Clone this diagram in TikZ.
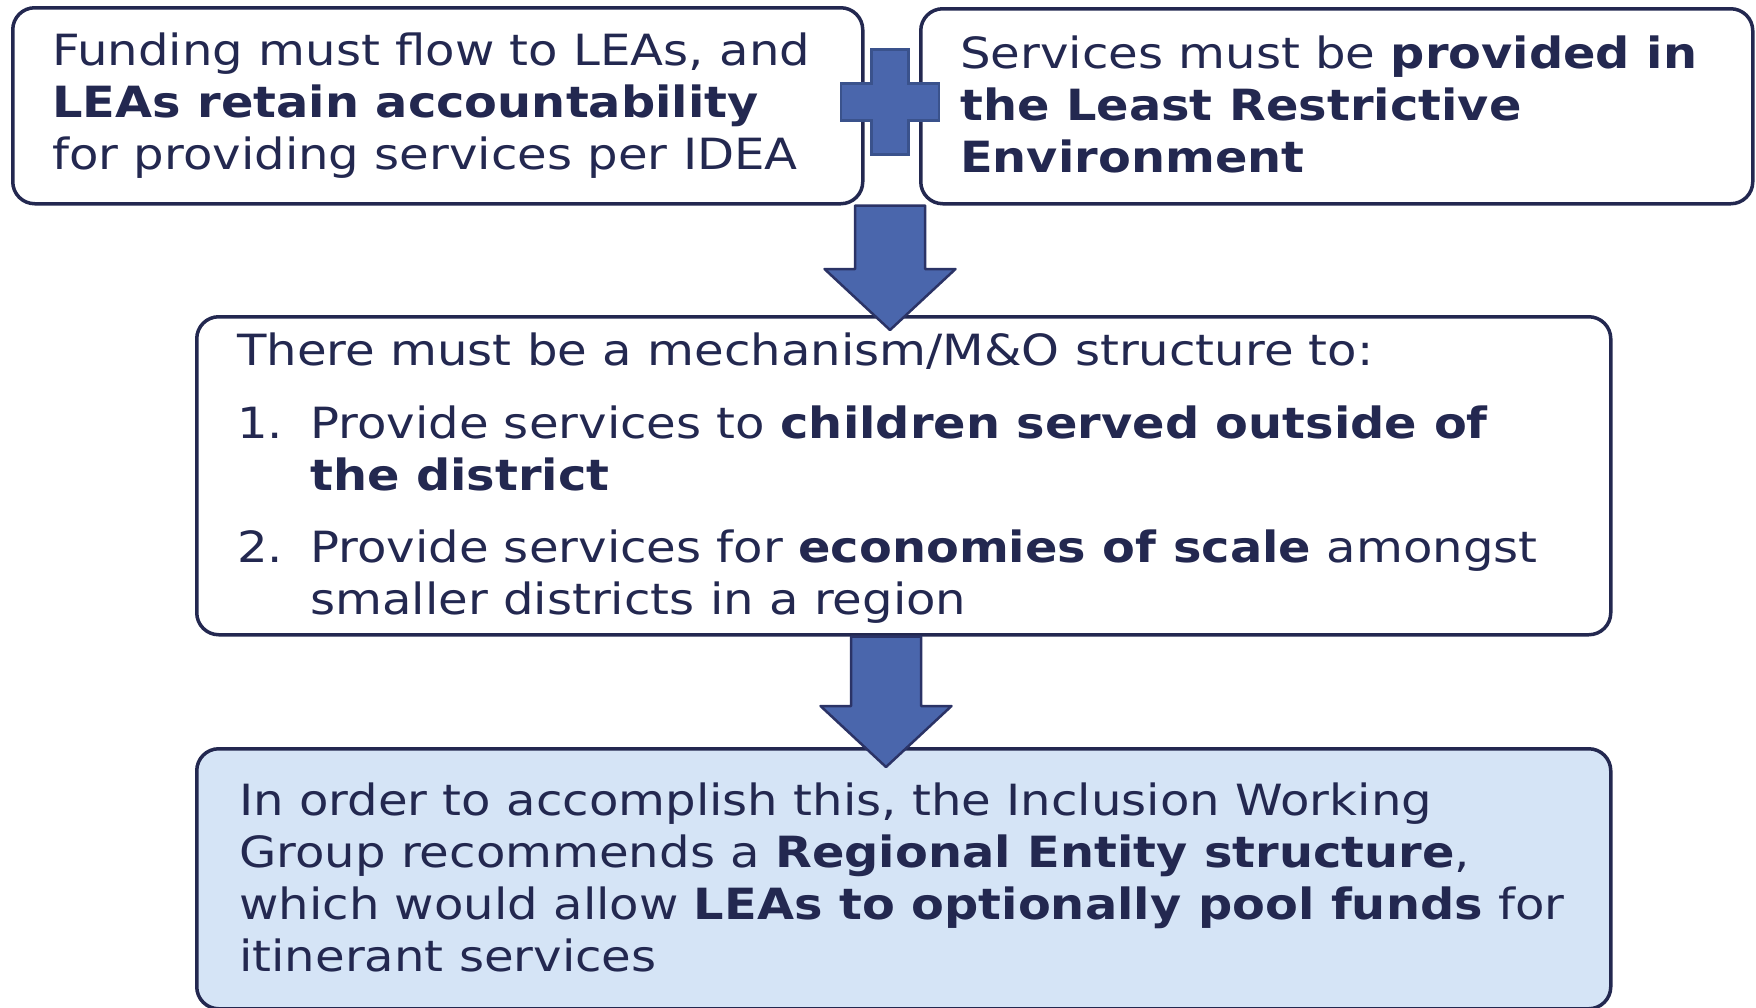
\documentclass[tikz,border=0pt]{standalone}
\usepackage{fontspec}
\setmainfont{DejaVu Sans}[FakeStretch=1.12, BoldFeatures={FakeStretch=1.113}]
\usetikzlibrary{calc}
\definecolor{ink}{RGB}{35,40,80}
\definecolor{arrowblue}{RGB}{74,102,172}
\definecolor{arrowedge}{RGB}{43,51,102}
\definecolor{plusedge}{RGB}{58,82,140}
\definecolor{paleblue}{RGB}{213,228,246}

% block arrow pointing down from #1 to the tip #2
\newcommand\flowarrow[2]{%
  \draw[flow] ($(#1)+(-35,0)$) -- ($(#1)+(35,0)$) -- ($(#2)+(35,-61)$)
    -- ($(#2)+(65.5,-61)$) -- (#2) -- ($(#2)+(-65.5,-61)$)
    -- ($(#2)+(-35,-61)$) -- cycle;}

\begin{document}
\begin{tikzpicture}[x=1pt,y=-1pt,
  box/.style={draw=ink, line width=3.5pt, rounded corners=22pt, fill=white,
    inner sep=0pt, anchor=north west},
  txt/.style={anchor=north west, inner sep=0pt, align=left, text=ink,
    font=\fontsize{43}{52}\selectfont},
  flow/.style={fill=arrowblue, draw=arrowedge, line width=2.5pt, line join=round},
  plusmark/.style={fill=arrowblue, draw=plusedge, line width=2.5pt}]
\useasboundingbox (0,0) rectangle (1756,1007);

% boxes
\node[box, minimum width=850, minimum height=196] (b1) at (11,6) {};
\node[box, minimum width=832, minimum height=195] (b2) at (919,7) {};
\node[box, minimum width=1414, minimum height=318] (b3) at (195,315) {};
\node[box, fill=paleblue, minimum width=1414, minimum height=260] (b4) at (195,747) {};

% texts
\node[txt] (t1) at (52,28.6) {\strut Funding must flow to LEAs, and\\
  \textbf{LEAs retain accountability}\\
  for providing services per IDEA};
\node[txt] (t2) at (960,31.6) {\strut Services must be \textbf{provided in}\\
  \textbf{the Least Restrictive}\\
  \textbf{Environment}};
\node[txt] (t3) at (237,328.6) {\strut There must be a mechanism/M\&O structure to:};
\node[txt] (n1) at (237,401.6) {\strut 1.};
\node[txt] (i1) at (310,401.6) {\strut Provide services to \textbf{children served outside of}\\
  \textbf{the district}};
\node[txt] (n2) at (237,525.6) {\strut 2.};
\node[txt] (i2) at (310,525.6) {\strut Provide services for \textbf{economies of scale} amongst\\
  smaller districts in a region};
\node[txt] (t4) at (239,778.6) {\strut In order to accomplish this, the Inclusion Working\\
  Group recommends a \textbf{Regional Entity structure},\\
  which would allow \textbf{LEAs to optionally pool funds} for\\
  itinerant services};

% plus sign between the two top boxes
\coordinate (plus) at (890,102);
\draw[plusmark, shift={(plus)}] (-18.5,-52.5) -- (18.5,-52.5) -- (18.5,-18.5)
  -- (49,-18.5) -- (49,18.5) -- (18.5,18.5) -- (18.5,52.5) -- (-18.5,52.5)
  -- (-18.5,18.5) -- (-49,18.5) -- (-49,-18.5) -- (-18.5,-18.5) -- cycle;

% downward arrows
\coordinate (a1top) at (b1.south -| plus);
\coordinate (a1tip) at ($(b3.north -| plus)+(0,15)$);
\flowarrow{a1top}{a1tip}
\coordinate (a2top) at ($(b3.south -| plus)+(-4,0)$);
\coordinate (a2tip) at ($(b4.north -| plus)+(-4,20)$);
\flowarrow{a2top}{a2tip}
\end{tikzpicture}
\end{document}
